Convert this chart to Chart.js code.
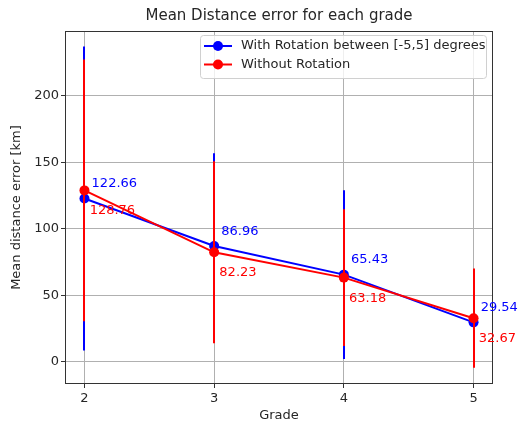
<!DOCTYPE html>
<html>
<head>
<meta charset="utf-8">
<script src="https://cdn.jsdelivr.net/npm/chart.js@4"></script>
<style>
  html, body { margin: 0; padding: 0; background: #fff; }
  #wrap { width: 519px; height: 423px; }
</style>
</head>
<body>
<div id="wrap"><canvas id="errChart" width="519" height="423"></canvas></div>
<script>
// data
const grades = [2, 3, 4, 5];
const rotMean = [122.66, 86.96, 65.43, 29.54];
const rotErr = [114.2, 69.7, 63.4, 30.0];
const noRotMean = [128.76, 82.23, 63.18, 32.67];
const noRotErr = [98.4, 68.4, 51.4, 37.3];
const seriesNames = ['With Rotation between [-5,5] degrees', 'Without Rotation'];
const seriesColors = ['#0000ff', '#ff0000'];
const yTicks = [0, 50, 100, 150, 200];

const FONT = "'DejaVu Sans', sans-serif";
const TXT = '#262626';

function toPoints(xs, ys) {
  return xs.map((x, i) => ({ x: x, y: ys[i] }));
}

// error bars (no caps), drawn under each series line
const errorBars = {
  id: 'errorBars',
  beforeDatasetDraw(chart, args) {
    const ds = chart.data.datasets[args.index];
    const { ctx, scales: { x, y } } = chart;
    ctx.save();
    ctx.strokeStyle = ds.borderColor;
    ctx.lineWidth = 2;
    ds.data.forEach((p, i) => {
      const px = Math.round(x.getPixelForValue(p.x));
      ctx.beginPath();
      ctx.moveTo(px, y.getPixelForValue(p.y - ds.errors[i]));
      ctx.lineTo(px, y.getPixelForValue(p.y + ds.errors[i]));
      ctx.stroke();
    });
    ctx.restore();
  },
  afterDatasetsDraw(chart) {
    const { ctx, chartArea: a, scales: { x, y } } = chart;
    ctx.save();
    // box around the axes
    ctx.strokeStyle = '#333';
    ctx.lineWidth = 1;
    ctx.strokeRect(Math.round(a.left) + 0.5, Math.round(a.top) + 0.5,
      Math.round(a.right - a.left) - 1, Math.round(a.bottom - a.top) - 1);

    // value labels
    ctx.font = '13px ' + FONT;
    ctx.textBaseline = 'middle';
    ctx.textAlign = 'left';
    const off = [{ dx: 0.055, dy: 11 }, { dx: 0.04, dy: -15.5 }];
    chart.data.datasets.forEach((ds, k) => {
      ctx.fillStyle = ds.borderColor;
      ds.data.forEach(p => {
        ctx.fillText(p.y.toFixed(2), x.getPixelForValue(p.x + off[k].dx), y.getPixelForValue(p.y + off[k].dy));
      });
    });
    ctx.restore();
  },
  afterDraw(chart) {
    // legend inside the axes, upper right
    const { ctx } = chart;
    const bx = 200, by = 35, bw = 286, bh = 43;
    ctx.save();
    ctx.fillStyle = 'rgba(255,255,255,0.8)';
    ctx.strokeStyle = '#d0d0d0';
    ctx.lineWidth = 1;
    ctx.beginPath();
    ctx.roundRect(bx + 0.5, by + 0.5, bw, bh, 3);
    ctx.fill();
    ctx.stroke();
    ctx.font = '13px ' + FONT;
    ctx.textBaseline = 'middle';
    seriesNames.forEach((name, k) => {
      const ly = by + 11 + k * 18.5;
      ctx.strokeStyle = seriesColors[k];
      ctx.fillStyle = seriesColors[k];
      ctx.lineWidth = 2;
      ctx.beginPath();
      ctx.moveTo(bx + 4, ly);
      ctx.lineTo(bx + 32, ly);
      ctx.stroke();
      ctx.beginPath();
      ctx.arc(bx + 18, ly, 5, 0, Math.PI * 2);
      ctx.fill();
      ctx.fillStyle = TXT;
      ctx.fillText(name, bx + 41, ly);
    });
    ctx.restore();
  }
};

const ctx = document.getElementById('errChart').getContext('2d');

const errChart = new Chart(ctx, {
  type: 'line',
  data: {
    datasets: [
      {
        label: seriesNames[0],
        data: toPoints(grades, rotMean),
        errors: rotErr,
        borderColor: seriesColors[0],
        backgroundColor: seriesColors[0],
        borderWidth: 2,
        pointRadius: 5,
        pointBorderWidth: 0,
        pointBackgroundColor: seriesColors[0],
        tension: 0,
        order: 2
      },
      {
        label: seriesNames[1],
        data: toPoints(grades, noRotMean),
        errors: noRotErr,
        borderColor: seriesColors[1],
        backgroundColor: seriesColors[1],
        borderWidth: 2,
        pointRadius: 5,
        pointBorderWidth: 0,
        pointBackgroundColor: seriesColors[1],
        tension: 0,
        order: 1
      }
    ]
  },
  options: {
    responsive: false,
    animation: false,
    devicePixelRatio: 1,
    layout: { padding: { left: 0, right: 26, top: 0, bottom: 0 } },
    plugins: {
      legend: { display: false },
      tooltip: { enabled: false },
      title: {
        display: true,
        fullSize: false,
        text: 'Mean Distance error for each grade',
        color: TXT,
        font: { family: FONT, size: 15, weight: 'normal' },
        padding: { top: 7, bottom: 6 }
      }
    },
    scales: {
      x: {
        type: 'linear',
        min: 1.85,
        max: 5.15,
        afterBuildTicks: s => { s.ticks = grades.map(v => ({ value: v })); },
        afterFit: s => { s.height = 39; },
        ticks: { color: TXT, font: { family: FONT, size: 13 }, padding: 3 },
        grid: { color: '#b0b0b0', lineWidth: 1, tickLength: 4, tickColor: '#333' },
        border: { display: false },
        title: {
          display: true,
          text: 'Grade',
          color: TXT,
          font: { family: FONT, size: 13 },
          padding: { top: 0, bottom: 0 }
        }
      },
      y: {
        min: -16.8,
        max: 248.6,
        afterBuildTicks: s => { s.ticks = yTicks.map(v => ({ value: v })); },
        afterFit: s => { s.width = 65; },
        ticks: { color: TXT, font: { family: FONT, size: 13 }, padding: 2 },
        grid: { color: '#b0b0b0', lineWidth: 1, tickLength: 4, tickColor: '#333' },
        border: { display: false },
        title: {
          display: true,
          text: 'Mean distance error [km]',
          color: TXT,
          font: { family: FONT, size: 13 },
          padding: { top: 9, bottom: 0 }
        }
      }
    }
  },
  plugins: [errorBars]
});
</script>
</body>
</html>
